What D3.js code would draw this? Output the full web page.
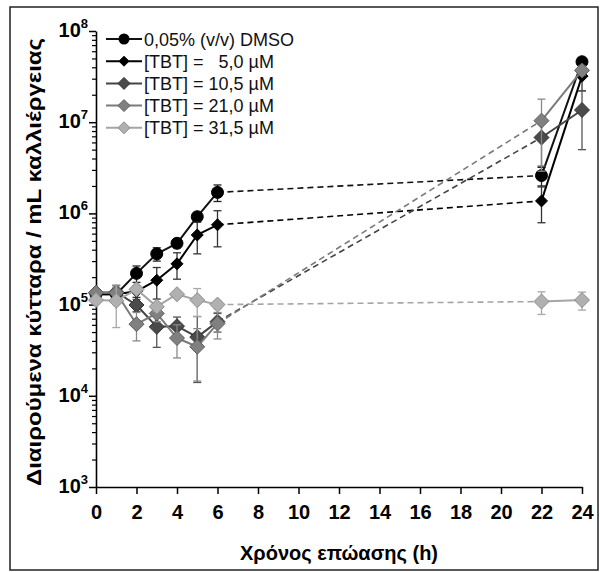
<!DOCTYPE html>
<html>
<head>
<meta charset="utf-8">
<script src="https://cdn.jsdelivr.net/npm/d3@7"></script>
<style>
  body { margin: 0; background: #fff; }
  svg text { font-family: "Liberation Sans", Arial, sans-serif; }
</style>
</head>
<body>
<svg width="600" height="572"></svg>
<script>
// time points (h)
var hours = [0, 1, 2, 3, 4, 5, 6, 22, 24];
var seriesNames = ["0,05% (v/v) DMSO", "[TBT] =   5,0 µM", "[TBT] = 10,5 µM", "[TBT] = 21,0 µM", "[TBT] = 31,5 µM"];

// mean cells / mL
var dmso   = [1.30e5, 1.30e5, 2.2e5, 3.6e5, 4.7e5, 9.2e5, 1.7e6, 2.6e6, 4.6e7];
var tbt5   = [1.30e5, 1.30e5, 1.40e5, 1.85e5, 2.8e5, 5.8e5, 7.5e5, 1.37e6, 3.2e7];
var tbt10  = [1.35e5, 1.37e5, 9.9e4, 5.7e4, 5.8e4, 4.4e4, 6.5e4, 6.8e6, 1.36e7];
var tbt21  = [1.35e5, 1.35e5, 6.1e4, 8.0e4, 4.3e4, 3.45e4, 6.2e4, 1.04e7, 3.7e7];
var tbt31  = [1.12e5, 1.10e5, 1.47e5, 9.5e4, 1.3e5, 1.12e5, 1.0e5, 1.08e5, 1.12e5];

// standard deviations
var dmsoSd  = [1.0e4, 1.5e4, 4.5e4, 6.0e4, 5.0e4, 1.0e5, 3.5e5, 6.0e5, 5.0e6];
var tbt5Sd  = [1.0e4, 1.5e4, 2.0e4, 7.0e4, 9.0e4, 2.2e5, 3.2e5, 5.8e5, 1.0e7];
var tbt10Sd = [1.0e4, 2.5e4, 1.5e4, 2.3e4, 1.5e4, 3.0e4, 1.5e4, 3.5e6, 8.6e6];
var tbt21Sd = [1.0e4, 2.0e4, 2.1e4, 1.5e4, 1.7e4, 2.0e4, 2.0e4, 7.5e6, 4.0e6];
var tbt31Sd = [1.0e4, 5.4e4, 1.0e4, 1.0e4, 1.0e4, 3.8e4, 1.0e4, 3.0e4, 2.5e4];

var xTicks = [0, 2, 4, 6, 8, 10, 12, 14, 16, 18, 20, 22, 24];
var yExponents = [3, 4, 5, 6, 7, 8];

var series = [
  { name: seriesNames[0], mean: dmso,  sd: dmsoSd,  shape: "circle", fill: "#000", stroke: "#000", line: "#111", err: "#222", r: 6 },
  { name: seriesNames[1], mean: tbt5,  sd: tbt5Sd,  shape: "diamond", fill: "#000", stroke: "#000", line: "#000", err: "#333", r: 6 },
  { name: seriesNames[2], mean: tbt10, sd: tbt10Sd, shape: "diamond", fill: "#4a4a4a", stroke: "#333", line: "#444", err: "#555", r: 7.5 },
  { name: seriesNames[3], mean: tbt21, sd: tbt21Sd, shape: "diamond", fill: "#808080", stroke: "#5e5e5e", line: "#7a7a7a", err: "#888", r: 7.5 },
  { name: seriesNames[4], mean: tbt31, sd: tbt31Sd, shape: "diamond", fill: "#b0b0b0", stroke: "#8c8c8c", line: "#a5a5a5", err: "#a8a8a8", r: 7.5 }
];

var svg = d3.select("svg");

// outer frame
svg.append("rect")
    .attr("x", 10).attr("y", 7)
    .attr("width", 588).attr("height", 563)
    .attr("fill", "none")
    .attr("stroke", "#222")
    .attr("stroke-width", 1.5);

var x = d3.scaleLinear().domain([0, 24]).range([96, 582]);
var y = d3.scaleLog().domain([1e3, 1e8]).range([487, 31]);

// x axis
var xAxis = svg.append("g")
    .attr("transform", "translate(0," + 487 + ")")
    .call(d3.axisBottom(x).tickValues(xTicks).tickSize(7).tickPadding(11).tickSizeOuter(0));
xAxis.select(".domain").attr("stroke-width", 1.6);
xAxis.selectAll(".tick line").attr("stroke-width", 1.5);
xAxis.selectAll(".tick text")
    .attr("font-size", 20)
    .attr("font-weight", "bold")
    .attr("fill", "#000");

// y axis: minor ticks
var minor = [];
yExponents.slice(0, -1).forEach(function(e) {
  for (var k = 2; k <= 9; k++) minor.push(k * Math.pow(10, e));
});
var yMinor = svg.append("g")
    .attr("transform", "translate(96,0)")
    .call(d3.axisLeft(y).tickValues(minor).tickSize(4).tickFormat("").tickSizeOuter(0));
yMinor.select(".domain").attr("stroke-width", 1.6);
yMinor.selectAll(".tick line").attr("stroke-width", 1.2);

var yMajor = svg.append("g")
    .attr("transform", "translate(96,0)")
    .call(d3.axisLeft(y).tickValues(yExponents.map(function(e) { return Math.pow(10, e); }))
      .tickSize(7).tickFormat("").tickSizeOuter(0));
yMajor.select(".domain").remove();
yMajor.selectAll(".tick line").attr("stroke-width", 1.5);

// y tick labels 10^n
yExponents.forEach(function(e) {
  var t = svg.append("text")
      .attr("x", 88)
      .attr("y", y(Math.pow(10, e)) + 6)
      .attr("text-anchor", "end")
      .attr("font-weight", "bold")
      .attr("font-size", 20)
      .attr("fill", "#000");
  t.append("tspan").text("10");
  t.append("tspan").attr("font-size", 13).attr("dy", -9).text(e);
});

// axis titles
svg.append("text")
    .attr("transform", "translate(41," + 262 + ") rotate(-90)")
    .attr("text-anchor", "middle")
    .attr("font-weight", "bold")
    .attr("font-size", 21)
    .attr("textLength", 448)
    .attr("lengthAdjust", "spacingAndGlyphs")
    .text("Διαιρούμενα κύτταρα / mL καλλιέργειας");

svg.append("text")
    .attr("x", 339)
    .attr("y", 560)
    .attr("text-anchor", "middle")
    .attr("font-weight", "bold")
    .attr("font-size", 20)
    .text("Χρόνος επώασης (h)");

function diamond(r) {
  return "M0," + (-r) + "L" + r + ",0L0," + r + "L" + (-r) + ",0Z";
}

var line = d3.line()
    .x(function(d) { return x(d.h); })
    .y(function(d) { return y(d.v); });

var plot = svg.append("g");

series.forEach(function(s) {
  var pts = hours.map(function(h, i) { return { h: h, v: s.mean[i], sd: s.sd[i] }; });
  var early = pts.filter(function(d) { return d.h <= 6; });
  var gap = pts.filter(function(d) { return d.h === 6 || d.h === 22; });
  var late = pts.filter(function(d) { return d.h >= 22; });
  var g = plot.append("g");

  // error bars
  pts.forEach(function(d) {
    var lo = Math.max(d.v - d.sd, 1e3), hi = d.v + d.sd;
    g.append("line")
        .attr("x1", x(d.h)).attr("x2", x(d.h))
        .attr("y1", y(lo)).attr("y2", y(hi))
        .attr("stroke", s.err).attr("stroke-width", 1.3);
    [lo, hi].forEach(function(v) {
      g.append("line")
          .attr("x1", x(d.h) - 4).attr("x2", x(d.h) + 4)
          .attr("y1", y(v)).attr("y2", y(v))
          .attr("stroke", s.err).attr("stroke-width", 1.3);
    });
  });

  [early, late].forEach(function(seg) {
    g.append("path")
        .datum(seg)
        .attr("fill", "none")
        .attr("stroke", s.line)
        .attr("stroke-width", 2)
        .attr("stroke-linejoin", "round")
        .attr("d", line);
  });
  g.append("path")
      .datum(gap)
      .attr("fill", "none")
      .attr("stroke", s.line)
      .attr("stroke-width", 1.6)
      .attr("stroke-dasharray", "6,4")
      .attr("d", line);

  pts.forEach(function(d) {
    if (s.shape === "circle") {
      g.append("circle")
          .attr("cx", x(d.h)).attr("cy", y(d.v)).attr("r", s.r)
          .attr("fill", s.fill).attr("stroke", s.stroke);
    } else {
      g.append("path")
          .attr("transform", "translate(" + x(d.h) + "," + y(d.v) + ")")
          .attr("d", diamond(s.r))
          .attr("fill", s.fill).attr("stroke", s.stroke).attr("stroke-width", 1);
    }
  });
});

// legend
var legend = svg.append("g");
series.forEach(function(s, i) {
  var ly = 39 + i * 22.2;
  legend.append("line")
      .attr("x1", 106).attr("x2", 142)
      .attr("y1", ly).attr("y2", ly)
      .attr("stroke", s.line).attr("stroke-width", 2);
  if (s.shape === "circle") {
    legend.append("circle").attr("cx", 124).attr("cy", ly).attr("r", 5.5).attr("fill", s.fill);
  } else {
    legend.append("path")
        .attr("transform", "translate(124," + ly + ")")
        .attr("d", diamond(s.r === 6 ? 5 : 6))
        .attr("fill", s.fill).attr("stroke", s.stroke);
  }
  legend.append("text")
      .attr("x", 144)
      .attr("y", ly + 6.5)
      .attr("font-size", 18)
      .style("white-space", "pre")
      .attr("fill", "#111")
      .text(s.name);
});
</script>
</body>
</html>
